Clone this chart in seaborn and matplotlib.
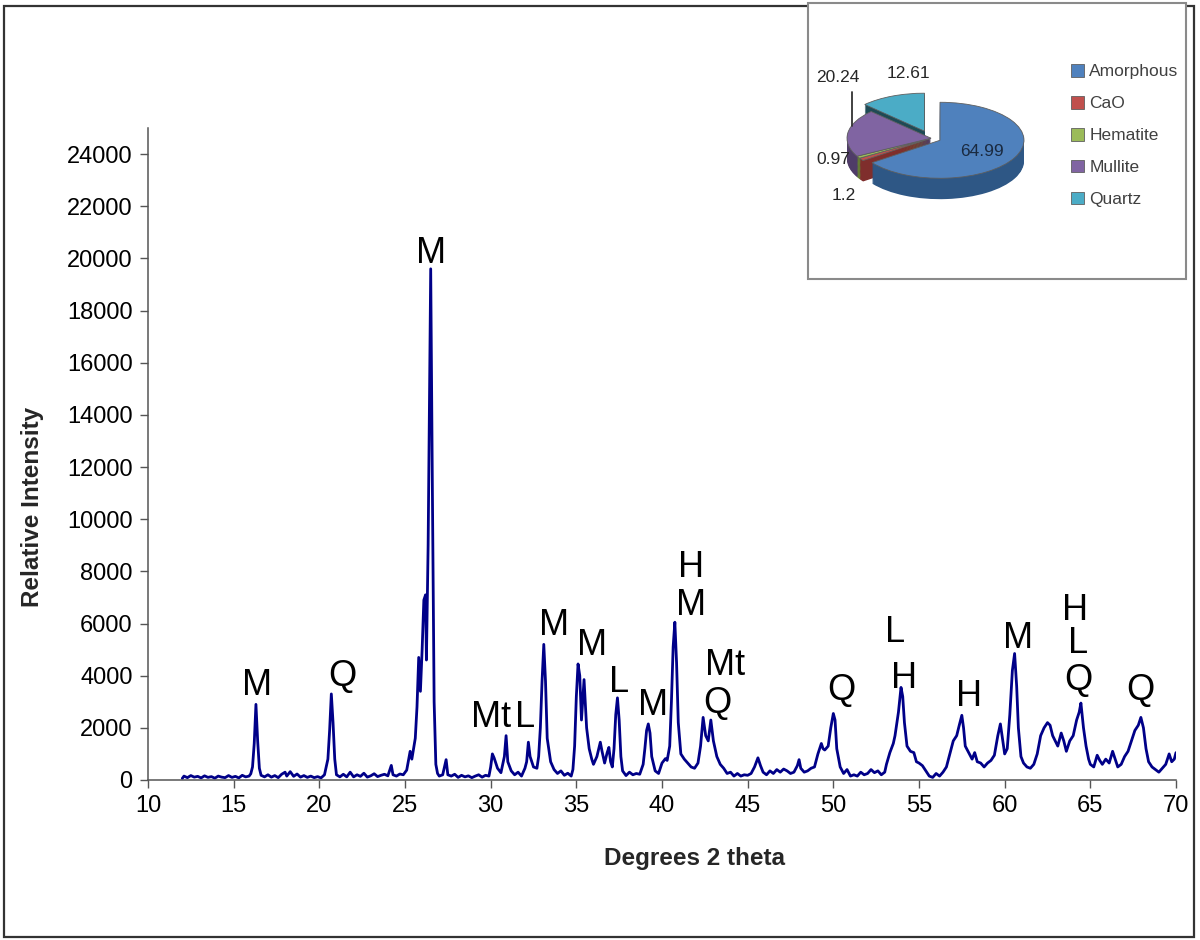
import matplotlib
matplotlib.use("Agg")
import matplotlib.pyplot as plt
import seaborn as sns
import pandas as pd
from matplotlib.patches import Rectangle
from matplotlib.lines import Line2D

# ---------------- data ----------------
two_theta = [12.0, 12.1, 12.3, 12.5, 12.7, 12.9, 13.1, 13.3, 13.5, 13.7, 13.9, 14.1, 14.3, 14.5, 14.7, 14.9,
             15.1, 15.3, 15.5, 15.7, 15.9, 16.0, 16.1, 16.2, 16.3, 16.4, 16.5, 16.6, 16.8, 17.0, 17.2, 17.4,
             17.6, 17.8, 18.0, 18.1, 18.3, 18.5, 18.7, 18.9, 19.1, 19.3, 19.5, 19.7, 19.9, 20.1, 20.3, 20.5,
             20.6, 20.7, 20.8, 20.9, 21.0, 21.2, 21.4, 21.6, 21.8, 22.0, 22.2, 22.4, 22.6, 22.8, 23.0, 23.2,
             23.4, 23.6, 23.8, 24.0, 24.2, 24.3, 24.5, 24.7, 24.9, 25.1, 25.3, 25.4, 25.6, 25.7, 25.8, 25.9,
             26.0, 26.1, 26.2, 26.25, 26.35, 26.5, 26.6, 26.7, 26.8, 26.9, 27.0, 27.2, 27.4, 27.5, 27.7, 27.9,
             28.1, 28.3, 28.5, 28.7, 28.9, 29.1, 29.3, 29.5, 29.7, 29.9, 30.0, 30.1, 30.2, 30.4, 30.6, 30.8,
             30.9, 31.0, 31.2, 31.4, 31.6, 31.8, 32.0, 32.1, 32.2, 32.3, 32.5, 32.7, 32.8, 32.9, 33.0, 33.1,
             33.2, 33.3, 33.5, 33.7, 33.9, 34.1, 34.3, 34.5, 34.7, 34.8, 34.9, 35.0, 35.1, 35.2, 35.3, 35.45,
             35.6, 35.75, 35.9, 36.0, 36.2, 36.4, 36.5, 36.65, 36.8, 36.9, 37.0, 37.1, 37.2, 37.3, 37.4, 37.5,
             37.6, 37.7, 37.9, 38.1, 38.3, 38.5, 38.7, 38.9, 39.0, 39.1, 39.2, 39.3, 39.4, 39.6, 39.8, 40.0,
             40.2, 40.3, 40.45, 40.55, 40.65, 40.75, 40.85, 40.95, 41.1, 41.3, 41.5, 41.7, 41.9, 42.1, 42.25, 42.4,
             42.55, 42.7, 42.85, 43.0, 43.2, 43.4, 43.6, 43.8, 44.0, 44.2, 44.4, 44.6, 44.8, 45.0, 45.2, 45.4,
             45.6, 45.75, 45.9, 46.1, 46.3, 46.5, 46.7, 46.9, 47.1, 47.3, 47.5, 47.7, 47.9, 48.0, 48.1, 48.3,
             48.5, 48.7, 48.9, 49.1, 49.3, 49.4, 49.5, 49.7, 49.85, 50.0, 50.1, 50.2, 50.4, 50.6, 50.8, 51.0,
             51.2, 51.4, 51.6, 51.8, 52.0, 52.2, 52.4, 52.6, 52.8, 53.0, 53.1, 53.3, 53.5, 53.6, 53.8, 53.95,
             54.05, 54.15, 54.3, 54.5, 54.7, 54.85, 55.0, 55.2, 55.4, 55.6, 55.8, 56.0, 56.2, 56.4, 56.6, 56.8,
             57.0, 57.2, 57.35, 57.5, 57.6, 57.7, 57.9, 58.1, 58.25, 58.4, 58.6, 58.8, 59.0, 59.2, 59.4, 59.6,
             59.75, 59.85, 60.0, 60.15, 60.3, 60.45, 60.58, 60.7, 60.8, 60.95, 61.1, 61.3, 61.5, 61.7, 61.9, 62.1,
             62.3, 62.5, 62.65, 62.8, 62.95, 63.1, 63.3, 63.45, 63.6, 63.8, 64.0, 64.2, 64.35, 64.45, 64.6, 64.75,
             64.9, 65.0, 65.2, 65.4, 65.55, 65.7, 65.9, 66.1, 66.3, 66.45, 66.6, 66.8, 67.0, 67.2, 67.4, 67.6,
             67.8, 67.95, 68.1, 68.25, 68.4, 68.6, 68.8, 69.0, 69.2, 69.4, 69.6, 69.75, 69.9, 70.0]
intensity = [60, 150, 90, 170, 110, 140, 80, 160, 100, 130, 70, 150, 110, 90, 170, 100,
             140, 80, 180, 120, 150, 240, 500, 1400, 2900, 1500, 450, 180, 120, 200, 110, 170,
             90, 220, 300, 150, 320, 140, 230, 110, 170, 100, 150, 90, 130, 80, 200, 800,
             1900, 3300, 2200, 800, 200, 120, 220, 120, 300, 120, 200, 140, 260, 110, 160, 240,
             130, 180, 220, 160, 560, 200, 150, 230, 200, 380, 1100, 800, 1600, 2800, 4700, 3400,
             5000, 6900, 7100, 4600, 9000, 19600, 11000, 3000, 600, 250, 150, 200, 780, 200, 150, 220,
             100, 180, 120, 160, 90, 150, 200, 110, 180, 150, 500, 1000, 850, 450, 280, 900,
             1700, 700, 350, 200, 300, 150, 450, 700, 1450, 900, 500, 450, 900, 2000, 3800, 5200,
             3800, 1600, 700, 400, 250, 350, 180, 260, 150, 400, 1300, 3200, 4450, 4000, 2300, 3850,
             2000, 1200, 800, 600, 900, 1450, 1100, 650, 1050, 1250, 700, 500, 1200, 2500, 3150, 2300,
             900, 350, 170, 300, 200, 250, 220, 600, 1200, 1900, 2150, 1800, 900, 350, 250, 650,
             820, 750, 1300, 3000, 5100, 6050, 4500, 2200, 1000, 800, 650, 500, 450, 650, 1300, 2400,
             1700, 1500, 2300, 1500, 900, 600, 450, 250, 300, 150, 250, 150, 200, 180, 250, 500,
             850, 550, 300, 200, 350, 250, 400, 300, 420, 350, 250, 300, 550, 780, 450, 300,
             350, 450, 500, 1000, 1400, 1200, 1150, 1300, 2000, 2550, 2300, 1200, 500, 250, 400, 150,
             200, 150, 300, 200, 250, 400, 280, 350, 200, 300, 600, 1050, 1400, 1700, 2600, 3550,
             3200, 2200, 1300, 1100, 1050, 700, 650, 550, 350, 150, 100, 250, 150, 300, 500, 1000,
             1500, 1700, 2100, 2480, 2000, 1300, 1050, 800, 1050, 700, 650, 500, 650, 750, 950, 1700,
             2150, 1700, 1000, 1200, 2500, 4200, 4850, 3600, 2000, 900, 650, 500, 450, 600, 1000, 1700,
             2000, 2200, 2100, 1700, 1500, 1300, 1800, 1500, 1100, 1500, 1700, 2300, 2600, 2950, 2000, 1300,
             800, 600, 500, 950, 750, 600, 800, 650, 1100, 800, 500, 600, 900, 1100, 1500, 1900,
             2100, 2400, 2000, 1200, 700, 500, 400, 300, 450, 600, 1000, 700, 800, 1050]

peak_labels = ["M", "Q", "M", "Mt", "L", "M", "M", "L", "M", "H", "M", "Mt", "Q",
               "Q", "L", "H", "H", "M", "H", "L", "Q", "Q"]
label_x = [16.39, 21.36, 26.51, 30.02, 32.01, 33.71, 35.94, 37.52, 39.45, 41.67, 41.70, 43.67, 43.26,
           50.46, 53.62, 54.15, 57.95, 60.76, 64.10, 64.27, 64.33, 67.90]
label_y = [3260, 3600, 19820, 2030, 2030, 5560, 4790, 3370, 2490, 7800, 6330, 4030, 2570,
           3070, 5290, 3530, 2840, 5060, 6120, 4870, 3450, 3070]

x_ticks = [10, 15, 20, 25, 30, 35, 40, 45, 50, 55, 60, 65, 70]
y_ticks = [0, 2000, 4000, 6000, 8000, 10000, 12000, 14000, 16000, 18000, 20000, 22000, 24000]

phases = ["Amorphous", "CaO", "Hematite", "Mullite", "Quartz"]
phase_pct = [64.99, 1.2, 0.97, 20.24, 12.61]
phase_colors = ["#4F81BD", "#C0504D", "#9BBB59", "#8064A2", "#4BACC6"]
phase_side_colors = ["#2E5785", "#7F2E2C", "#657E35", "#4F3C68", "#1E4A55"]
phase_explode = [0.12, 0.0, 0.0, 0.0, 0.2]

# ---------------- figure ----------------
sns.set_theme(style="white")
plt.rcParams["font.family"] = ["Liberation Sans", "DejaVu Sans"]

W, H = 1200, 940
fig = plt.figure(figsize=(12, 9.4), dpi=100)
fig.patch.set_facecolor("white")


def fx(px):
    return px / W


def fy(py):
    return 1 - py / H


# outer border
fig.patches.append(Rectangle((fx(4), fy(937)), fx(1194) - fx(4), fy(6) - fy(937),
                             transform=fig.transFigure, fill=False,
                             edgecolor="#333333", linewidth=1.6, zorder=0))

ax = fig.add_axes([fx(148), fy(780), fx(1176) - fx(148), fy(128) - fy(780)])
df = pd.DataFrame({"two_theta": two_theta, "intensity": intensity})
sns.lineplot(data=df, x="two_theta", y="intensity", ax=ax, color="#000088",
             linewidth=2.0, sort=False)

ax.set_xlim(10, 70)
ax.set_ylim(0, 25000)
ax.set_xticks(x_ticks)
ax.set_yticks(y_ticks)
ax.set_xticklabels([str(v) for v in x_ticks], fontsize=17)
ax.set_yticklabels([str(v) for v in y_ticks], fontsize=17)
for s in ["top", "right"]:
    ax.spines[s].set_visible(False)
for s in ["left", "bottom"]:
    ax.spines[s].set_color("#555555")
    ax.spines[s].set_linewidth(1.1)
ax.tick_params(axis="both", direction="out", length=6, width=1.0, color="#555555",
               bottom=True, left=True, pad=5, labelcolor="black")
ax.set_facecolor("white")

ax.set_xlabel("Degrees 2 theta", fontsize=17.5, fontweight="bold")
ax.set_ylabel("Relative Intensity", fontsize=17.5, fontweight="bold")
ax.xaxis.set_label_coords((694 - 148) / 1028, (780 - 847) / 652)
ax.yaxis.set_label_coords((44 - 148) / 1028, (780 - 507) / 652)

for lab, lx, ly in zip(peak_labels, label_x, label_y):
    ax.text(lx, ly, lab, fontsize=26, ha="center", va="baseline", color="black")

# ---------------- inset ----------------
fig.patches.append(Rectangle((fx(808), fy(279)), fx(1186) - fx(808), fy(3) - fy(279),
                             transform=fig.transFigure, facecolor="white",
                             edgecolor="#8a8a8a", linewidth=1.5, zorder=1))

pax = fig.add_axes([fx(826), fy(199), fx(210), fy(0) - fy(114)], zorder=3)
depth = 0.55
n_layers = 24
for i in range(n_layers):
    d = -depth + depth * i / n_layers
    pax.pie(phase_pct, colors=phase_side_colors, explode=phase_explode, startangle=90,
            counterclock=False, center=(0, d), radius=1.0,
            wedgeprops=dict(linewidth=0.0))
wedges, _ = pax.pie(phase_pct, colors=phase_colors, explode=phase_explode, startangle=90,
                    counterclock=False, center=(0, 0), radius=1.0,
                    wedgeprops=dict(linewidth=0.6, edgecolor="#5f5f5f"))
pax.set_aspect("auto")
pax.set_xlim(-1.25, 1.25)
pax.set_ylim(-1.6, 1.4)
pax.axis("off")

num_color = "#262626"
fig.text(fx(982), fy(151), "64.99", fontsize=12.5, ha="center", va="center", color="#1a2a40")
fig.text(fx(838), fy(77), "20.24", fontsize=12.5, ha="center", va="center", color=num_color)
fig.text(fx(908), fy(74), "12.61", fontsize=12.5, ha="center", va="center", color=num_color)
fig.text(fx(833), fy(160), "0.97", fontsize=12.5, ha="center", va="center", color=num_color)
fig.text(fx(844), fy(196), "1.2", fontsize=12.5, ha="center", va="center", color=num_color)
fig.lines.append(Line2D([fx(852), fx(852)], [fy(92), fy(126)], transform=fig.transFigure,
                        color="#333333", linewidth=1.3, zorder=4))

leg = fig.legend(wedges, phases, loc="upper left", bbox_to_anchor=(fx(1071), fy(64)),
                 frameon=False, fontsize=12.5, labelspacing=0.95, handlelength=0.75,
                 handleheight=0.75, handletextpad=0.3, borderaxespad=0, borderpad=0)
for t in leg.get_texts():
    t.set_color("#404040")
leg.set_zorder(5)

fig.savefig("out.png", dpi=100, facecolor="white")
